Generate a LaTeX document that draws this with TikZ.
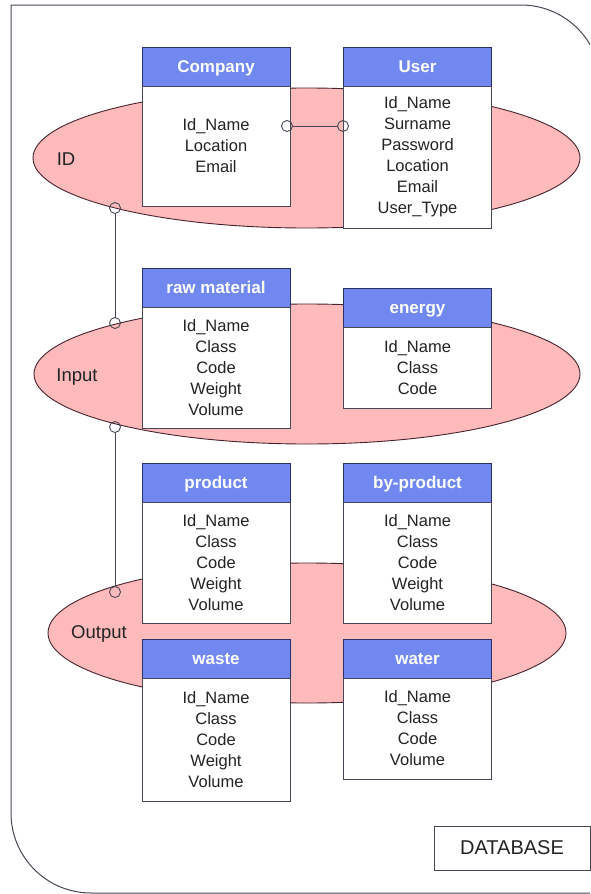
\documentclass[tikz,border=0pt]{standalone}
\usepackage{fontspec}
\setmainfont{Liberation Sans}
\usetikzlibrary{positioning,shapes.geometric}
\definecolor{hdblue}{RGB}{112,136,240}
\definecolor{hdline}{RGB}{40,50,105}
\definecolor{setpink}{RGB}{255,187,187}
\definecolor{setline}{RGB}{70,35,45}
\definecolor{boxline}{RGB}{70,70,85}
\definecolor{txt}{RGB}{35,35,35}

\begin{document}
\begin{tikzpicture}[x=1pt, y=-1pt,
    every node/.style={outer sep=0pt, text=txt},
    set/.style={ellipse, draw=setline, fill=setpink, inner sep=0pt, line width=0.9pt},
    setlabel/.style={font=\fontsize{18.5}{18.5}\selectfont},
    head/.style={draw=hdline, fill=hdblue, line width=1pt, minimum width=148pt, minimum height=39pt,
        inner sep=0pt, text height=12.5pt, text depth=0pt, text=white, font=\bfseries\fontsize{17}{17}\selectfont},
    attrs/.style={draw=boxline, fill=white, line width=1pt, minimum width=148pt, inner sep=0pt,
        align=center, font=\fontsize{16.5}{21}\selectfont},
    link/.style={circle, draw=boxline, line width=0.9pt, minimum size=11pt, inner sep=0pt}
]
\useasboundingbox (0,0) rectangle (590,894);
\begin{scope}
\clip (0,0) rectangle (590,894);
\draw[draw=boxline, line width=1pt] (11,5) -- (521,5) arc[start angle=270, end angle=360, radius=80]
    -- (601,893) -- (91,893) arc[start angle=90, end angle=180, radius=80] -- cycle;
\end{scope}

% sets
\node[set, minimum width=547pt, minimum height=140pt] (ID) at (306.5,158) {};
\node[set, minimum width=546pt, minimum height=140pt] (IN) at (307,374) {};
\node[set, minimum width=518pt, minimum height=140pt] (OUT) at (307,633) {};
\node[setlabel] (idl) at (66,159) {ID};
\node[setlabel] (inl) at (77,377) {Input};
\node[setlabel] (outl) at (99,634) {Output};

% tables
\node[head] (co) at (216,66.5) {Company};
\node[attrs, minimum height=120pt, below=0pt of co] (cob) {Id\_Name\\Location\\Email};
\node[head] (us) at (417.5,66.5) {User};
\node[attrs, minimum height=142pt, below=0pt of us] (usb) {Id\_Name\\Surname\\Password\\Location\\Email\\User\_Type};

\node[head] (rm) at (216,287.5) {raw material};
\node[attrs, minimum height=121pt, below=0pt of rm] (rmb) {Id\_Name\\Class\\Code\\Weight\\Volume};
\node[head] (en) at (417.5,307.5) {energy};
\node[attrs, minimum height=81pt, below=0pt of en] (enb) {Id\_Name\\Class\\Code};

\node[head] (pr) at (216,482.5) {product};
\node[attrs, minimum height=121pt, below=0pt of pr] (prb) {Id\_Name\\Class\\Code\\Weight\\Volume};
\node[head] (bp) at (417.5,482.5) {by-product};
\node[attrs, minimum height=121pt, below=0pt of bp] (bpb) {Id\_Name\\Class\\Code\\Weight\\Volume};

\node[head] (ws) at (216,658.5) {waste};
\node[attrs, minimum height=123pt, below=0pt of ws] (wsb) {Id\_Name\\Class\\Code\\Weight\\Volume};
\node[head] (wt) at (417.5,658.5) {water};
\node[attrs, minimum height=101pt, below=0pt of wt] (wtb) {Id\_Name\\Class\\Code\\Volume};

% links
\node[link] (l1) at (287,126) {};
\node[link] (l2) at (343,126) {};
\node[link] (l3) at (115,208) {};
\node[link] (l4) at (115,323) {};
\node[link] (l5) at (115,427) {};
\node[link] (l6) at (115,592) {};
\draw[draw=boxline, line width=0.9pt] (l1) -- (l2);
\draw[draw=boxline, line width=0.9pt] (l3) -- (l4);
\draw[draw=boxline, line width=0.9pt] (l5) -- (l6);

\node[draw=boxline, line width=1pt, minimum width=156pt, minimum height=44pt,
    font=\fontsize{20}{20}\selectfont] (db) at (512,848) {DATABASE};
\end{tikzpicture}
\end{document}
